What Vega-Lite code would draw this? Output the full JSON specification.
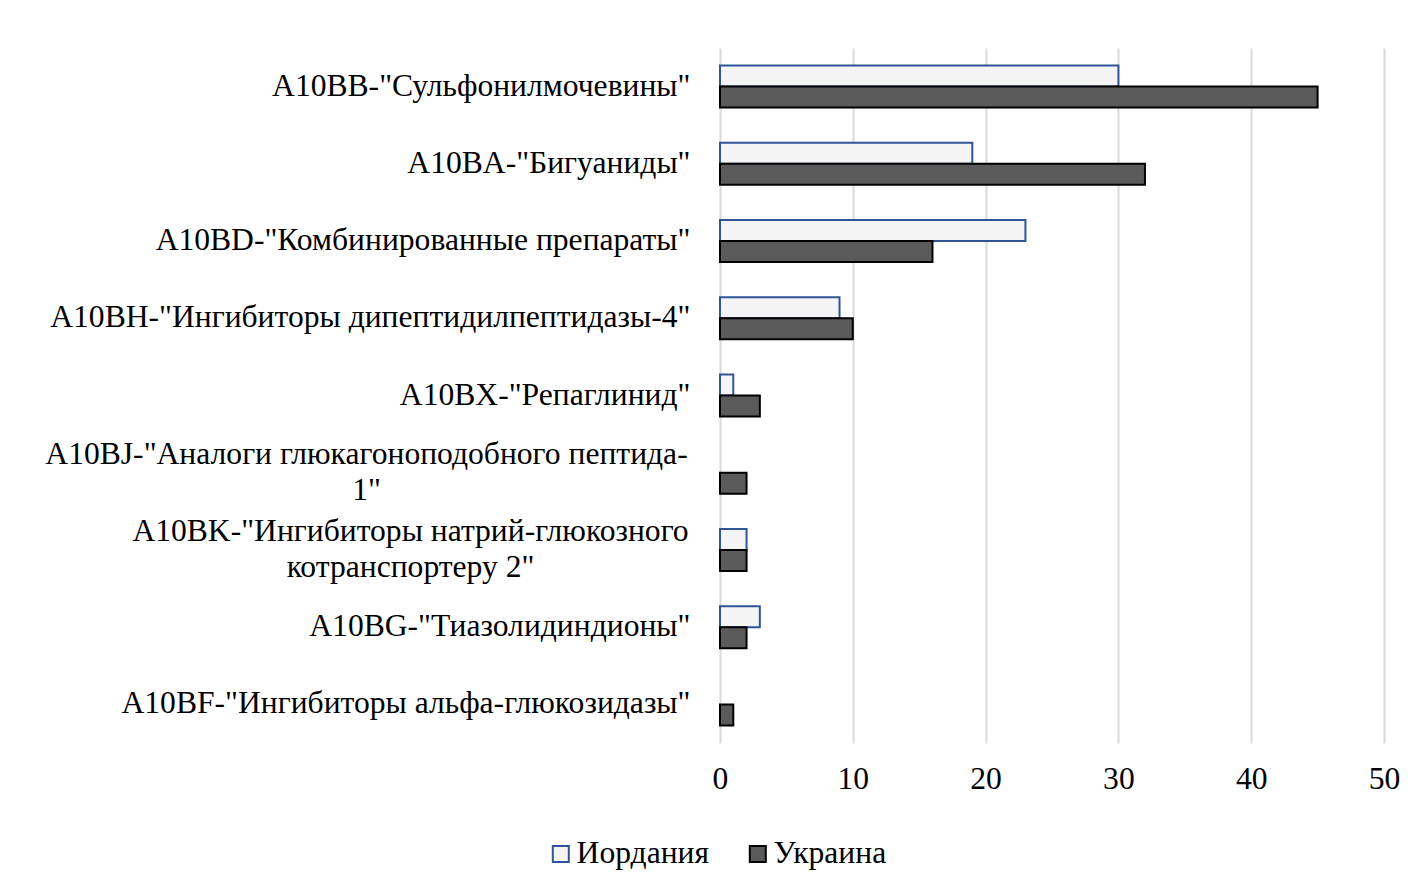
{
  "$schema": "https://vega.github.io/schema/vega-lite/v6.json",
  "width": 664,
  "height": 695,
  "autosize": {"type": "none"},
  "padding": {"left": 720, "top": 48, "right": 26, "bottom": 144},
  "background": "white",
  "config": {"view": {"stroke": null}, "font": "Liberation Serif"},
  "data": {
    "values": [
      {"category": "A10BB-\"Сульфонилмочевины\"", "country": "Иордания", "value": 30},
      {"category": "A10BB-\"Сульфонилмочевины\"", "country": "Украина", "value": 45},
      {"category": "A10BA-\"Бигуаниды\"", "country": "Иордания", "value": 19},
      {"category": "A10BA-\"Бигуаниды\"", "country": "Украина", "value": 32},
      {"category": "A10BD-\"Комбинированные препараты\"", "country": "Иордания", "value": 23},
      {"category": "A10BD-\"Комбинированные препараты\"", "country": "Украина", "value": 16},
      {"category": "A10BH-\"Ингибиторы  дипептидилпептидазы-4\"", "country": "Иордания", "value": 9},
      {"category": "A10BH-\"Ингибиторы  дипептидилпептидазы-4\"", "country": "Украина", "value": 10},
      {"category": "A10BX-\"Репаглинид\"", "country": "Иордания", "value": 1},
      {"category": "A10BX-\"Репаглинид\"", "country": "Украина", "value": 3},
      {"category": "A10BJ-\"Аналоги  глюкагоноподобного пептида-|1\"", "country": "Иордания", "value": 0},
      {"category": "A10BJ-\"Аналоги  глюкагоноподобного пептида-|1\"", "country": "Украина", "value": 2},
      {"category": "A10BK-\"Ингибиторы  натрий-глюкозного|котранспортеру 2\"", "country": "Иордания", "value": 2},
      {"category": "A10BK-\"Ингибиторы  натрий-глюкозного|котранспортеру 2\"", "country": "Украина", "value": 2},
      {"category": "A10BG-\"Тиазолидиндионы\"", "country": "Иордания", "value": 3},
      {"category": "A10BG-\"Тиазолидиндионы\"", "country": "Украина", "value": 2},
      {"category": "A10BF-\"Ингибиторы альфа-глюкозидазы\"", "country": "Иордания", "value": 0},
      {"category": "A10BF-\"Ингибиторы альфа-глюкозидазы\"", "country": "Украина", "value": 1}
    ]
  },
  "mark": {"type": "bar", "strokeWidth": 2},
  "encoding": {
    "y": {
      "field": "category",
      "type": "nominal",
      "sort": null,
      "scale": {"paddingInner": 0.456, "paddingOuter": 0.228},
      "axis": {
        "title": null,
        "domain": false,
        "ticks": false,
        "grid": false,
        "labelFont": "Liberation Serif",
        "labelFontSize": 31.6,
        "labelColor": "black",
        "labelLimit": 900,
        "labelLineHeight": 36,
        "labelExpr": "split(datum.value, '|')",
        "labelAlign": {"condition": {"test": "indexof(datum.value, '|') >= 0", "value": "center"}, "value": "right"},
        "labelOffset": {"condition": {"test": "indexof(datum.value, '|') >= 0", "value": -18}, "value": 0},
        "labelPadding": {"condition": [{"test": "indexof(datum.value, 'A10BJ') >= 0", "value": 354}, {"test": "indexof(datum.value, 'A10BK') >= 0", "value": 310}], "value": 30}
      }
    },
    "yOffset": {"field": "country", "sort": ["Иордания", "Украина"], "scale": {"paddingInner": 0}},
    "x": {
      "field": "value",
      "type": "quantitative",
      "scale": {"domain": [0, 50]},
      "axis": {
        "title": null,
        "values": [0, 10, 20, 30, 40, 50],
        "grid": true,
        "gridColor": "#d9d9d9",
        "gridWidth": 2,
        "domain": false,
        "ticks": false,
        "labelFlush": false,
        "labelFont": "Liberation Serif",
        "labelFontSize": 31.6,
        "labelColor": "black",
        "labelPadding": 20
      }
    },
    "fill": {
      "field": "country",
      "type": "nominal",
      "scale": {"domain": ["Иордания", "Украина"], "range": ["#f4f4f4", "#5a5a5a"]},
      "legend": {
        "title": null,
        "orient": "none",
        "legendX": -175,
        "legendY": 790,
        "direction": "horizontal",
        "symbolType": "square",
        "symbolSize": 256,
        "symbolStrokeWidth": 2,
        "labelFont": "Liberation Serif",
        "labelFontSize": 31.6,
        "labelColor": "black",
        "labelOffset": 0,
        "columnPadding": 32
      }
    },
    "stroke": {
      "field": "country",
      "type": "nominal",
      "scale": {"domain": ["Иордания", "Украина"], "range": ["#2f5597", "#000000"]},
      "legend": {
        "title": null,
        "orient": "none",
        "legendX": -175,
        "legendY": 790,
        "direction": "horizontal",
        "symbolType": "square",
        "symbolSize": 256,
        "symbolStrokeWidth": 2,
        "labelFont": "Liberation Serif",
        "labelFontSize": 31.6,
        "labelColor": "black",
        "labelOffset": 0,
        "columnPadding": 32
      }
    },
    "strokeOpacity": {"condition": {"test": "datum.value == 0", "value": 0}, "value": 1}
  }
}
